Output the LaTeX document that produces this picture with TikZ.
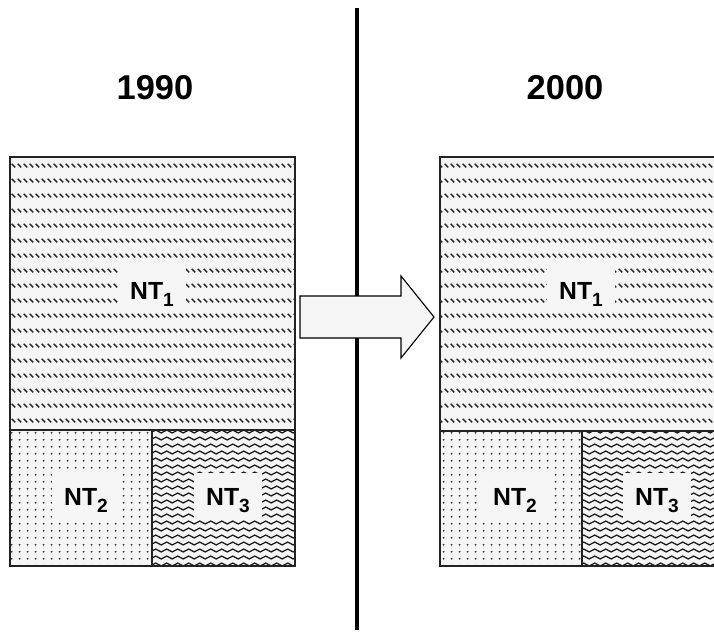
\documentclass[tikz,border=0pt]{standalone}
\usepackage{fontspec}
\setmainfont{Liberation Sans}
\usepackage{xcolor}
\definecolor{paper}{RGB}{245,245,245}
\definecolor{ink}{RGB}{34,34,34}
\usepackage{tikz}
\usetikzlibrary{patterns}

% fill patterns of the three shares
\pgfdeclarepatternformonly{ntdash}{\pgfqpoint{0pt}{0pt}}{\pgfqpoint{3.9pt}{10.8pt}}{\pgfqpoint{3.9pt}{10.8pt}}{%
  \pgfsetlinewidth{1.05pt}
  \pgfpathmoveto{\pgfqpoint{0.5pt}{3.1pt}}
  \pgfpathlineto{\pgfqpoint{3.3pt}{0.5pt}}
  \pgfusepath{stroke}}
\pgfdeclarepatternformonly{ntdots}{\pgfqpoint{0pt}{0pt}}{\pgfqpoint{5.7pt}{4.75pt}}{\pgfqpoint{5.7pt}{4.75pt}}{%
  \pgfpathcircle{\pgfqpoint{2.85pt}{2.4pt}}{0.75pt}
  \pgfusepath{fill}}
\pgfdeclarepatternformonly{ntwave}{\pgfqpoint{0pt}{0pt}}{\pgfqpoint{7.8pt}{5.3pt}}{\pgfqpoint{7.8pt}{5.3pt}}{%
  \pgfsetlinewidth{0.95pt}
  \pgfpathmoveto{\pgfqpoint{0pt}{2.65pt}}
  \pgfpathsine{\pgfqpoint{1.95pt}{1.1pt}}
  \pgfpathcosine{\pgfqpoint{1.95pt}{-1.1pt}}
  \pgfpathsine{\pgfqpoint{1.95pt}{-1.1pt}}
  \pgfpathcosine{\pgfqpoint{1.95pt}{1.1pt}}
  \pgfusepath{stroke}}

\newcommand{\ntsub}[1]{\raisebox{-0.31em}{\fontsize{13.6}{15}\selectfont #1}}

\tikzset{
  yearlabel/.style={anchor=base, inner sep=0pt,
    font=\fontsize{24.5}{29}\selectfont\bfseries},
  ntlabel/.style={anchor=base, fill=paper, inner sep=0pt,
    text height=22.8pt, text depth=10pt, minimum width=49pt, align=center,
    font=\fontsize{17.6}{21}\selectfont\bfseries},
  region/.style={draw=ink, line width=0.9pt, preaction={fill=paper}},
  ntone/.style={region, pattern=ntdash, pattern color=black!85},
  nttwo/.style={region, pattern=ntdots, pattern color=black!80},
  ntthree/.style={region, pattern=ntwave, pattern color=black!90},
  divider/.style={line width=3.2pt, color=black},
  shiftarrow/.style={draw=black, line width=0.8pt, fill=paper, line join=miter}
}

\begin{document}
\begin{tikzpicture}[x=0.025cm, y=-0.025cm]
  \useasboundingbox (0,0) rectangle (714,635);
  \clip (0,0) rectangle (714,635);

  % years
  \node[yearlabel] (y1990) at (155,100) {1990};
  \node[yearlabel] (y2000) at (565,100) {2000};

  % 1990
  \path[ntone]   (10,157)  rectangle (295,430);
  \path[nttwo]   (10,430)  rectangle (152,566);
  \path[ntthree] (152,430) rectangle (295,566);
  \node[ntlabel] (old1) at (152,299) {NT\ntsub{1}};
  \node[ntlabel] (old2) at (86,505)  {NT\ntsub{2}};
  \node[ntlabel] (old3) at (228,505) {NT\ntsub{3}};

  % 2000
  \path[ntone]   (440,157) rectangle (726,431);
  \path[nttwo]   (440,431) rectangle (582,566);
  \path[ntthree] (582,431) rectangle (726,566);
  \node[ntlabel] (new1) at (581,299) {NT\ntsub{1}};
  \node[ntlabel] (new2) at (515,505) {NT\ntsub{2}};
  \node[ntlabel] (new3) at (657,505) {NT\ntsub{3}};

  % split line and shift
  \draw[divider] (357,8) -- (357,630);
  \draw[shiftarrow] (300,296) -- (401,296) -- (401,276) -- (434,317)
    -- (401,358) -- (401,338) -- (300,338) -- cycle;
\end{tikzpicture}
\end{document}
